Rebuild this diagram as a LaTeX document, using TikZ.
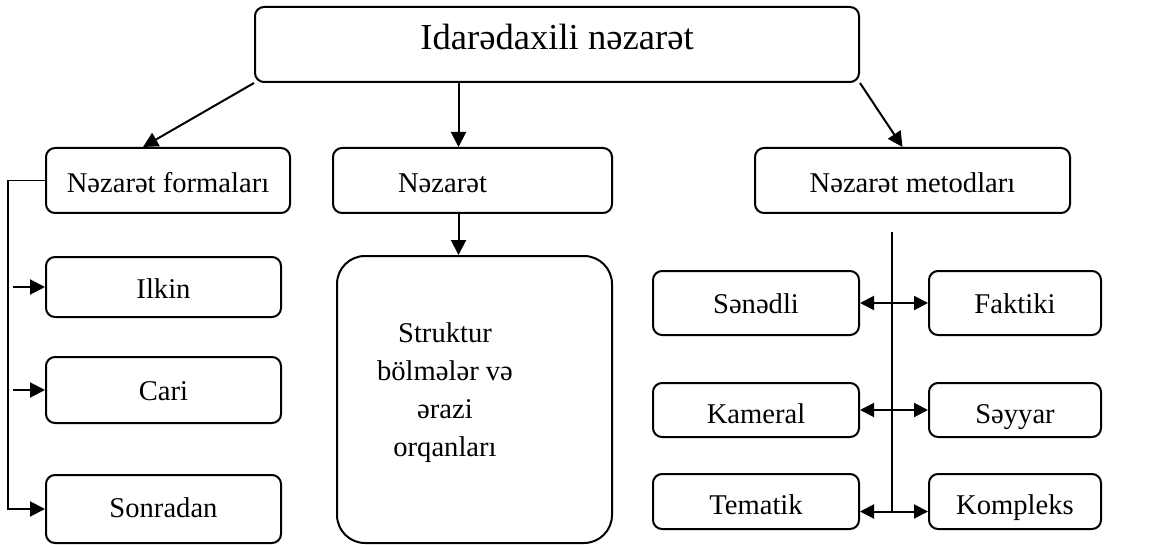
\documentclass[tikz,border=0pt]{standalone}
\usepackage{fontspec}
\setmainfont{Liberation Serif}
\usetikzlibrary{arrows.meta}

\begin{document}
\begin{tikzpicture}[x=0.5pt, y=-0.5pt]
\tikzset{boite/.style={draw, line width=1pt, rounded corners=4.5pt, align=center,
    inner sep=0pt, text height=10pt, text depth=0pt, font=\fontsize{14.3}{19}\selectfont},
  basse/.style={text height=13pt},
  fleche/.style={line width=1pt, -{Triangle[length=7.5pt, width=7.5pt]}},
  dfleche/.style={line width=1pt, {Triangle[length=7pt, width=7pt]}-{Triangle[length=7pt, width=7pt]}}}
\useasboundingbox (0, 0) rectangle (1155, 545);
\node[boite, minimum width=302pt, minimum height=37.5pt, text height=5.5pt,
  font=\fontsize{18.3}{22}\selectfont] (I) at (557, 44.5) {Idarədaxili nəzarət};
\node[boite, minimum width=122pt, minimum height=32.5pt, text height=11.5pt] (NF) at (168, 180.5) {Nəzarət formaları};
\node[boite, minimum width=139.5pt, minimum height=32.5pt, text height=11.5pt] (N) at (472.5, 180.5) {Nəzarət\hspace*{30pt}};
\node[boite, minimum width=157.5pt, minimum height=32.5pt, text height=11.5pt] (NM) at (912.5, 180.5) {Nəzarət metodları};
\node[boite, minimum width=117.5pt, minimum height=30pt, text height=11pt] (F1) at (163.5, 287) {Ilkin};
\node[boite, minimum width=117.5pt, minimum height=33pt] (F2) at (163.5, 390) {Cari};
\node[boite, minimum width=117.5pt, minimum height=34pt, text height=8pt] (F3) at (163.5, 509) {Sonradan};
\node[boite, rounded corners=14pt, minimum width=137.5pt, minimum height=143.5pt] (S) at (474.5, 399.5) {};
\node[align=center, inner sep=0pt, font=\fontsize{14.3}{19}\selectfont] (ST) at (445, 393)
  {Struktur\\bölmələr və\\ərazi\\orqanları};
\node[boite, minimum width=103pt, minimum height=32pt] (M1) at (756, 303) {Sənədli};
\node[boite, minimum width=86pt, minimum height=32pt] (M2) at (1015, 303) {Faktiki};
\node[boite, basse, minimum width=103pt, minimum height=27pt] (M3) at (756, 410) {Kameral};
\node[boite, basse, minimum width=86pt, minimum height=27pt] (M4) at (1015, 410) {Səyyar};
\node[boite, basse, minimum width=103pt, minimum height=27.5pt] (M5) at (756, 501.5) {Tematik};
\node[boite, basse, minimum width=86pt, minimum height=27.5pt] (M6) at (1015, 501.5) {Kompleks};
\coordinate (haut) at (892, 232);
\coordinate (bas) at (892, 512);
\draw[fleche] (I.south west) -- ([xshift=-12.5pt]NF.north);
\draw[fleche] ([xshift=-7pt]N.north |- I.south) -- ([xshift=-7pt]N.north);
\draw[fleche] (I.south east) -- ([xshift=-5pt]NM.north);
\draw[fleche] ([xshift=-7pt]N.south) -- ([xshift=-7pt]N.south |- S.north);
\draw[line width=0.7pt] (NF.west) -- ++(-18.5pt, 0) |- ([xshift=-7pt]F3.west);
\draw[fleche] ([xshift=-8pt]F3.west) -- (F3.west);
\draw[fleche] ([xshift=-16pt]F1.west) -- (F1.west);
\draw[fleche] ([xshift=-16pt]F2.west) -- (F2.west);
\draw[line width=0.6pt] (haut) -- (bas);
\draw[dfleche] (M1.east) -- (M2.west);
\draw[dfleche] (M3.east) -- (M4.west);
\draw[dfleche] ([yshift=-5pt]M5.east) -- ([yshift=-5pt]M6.west);
\end{tikzpicture}
\end{document}
